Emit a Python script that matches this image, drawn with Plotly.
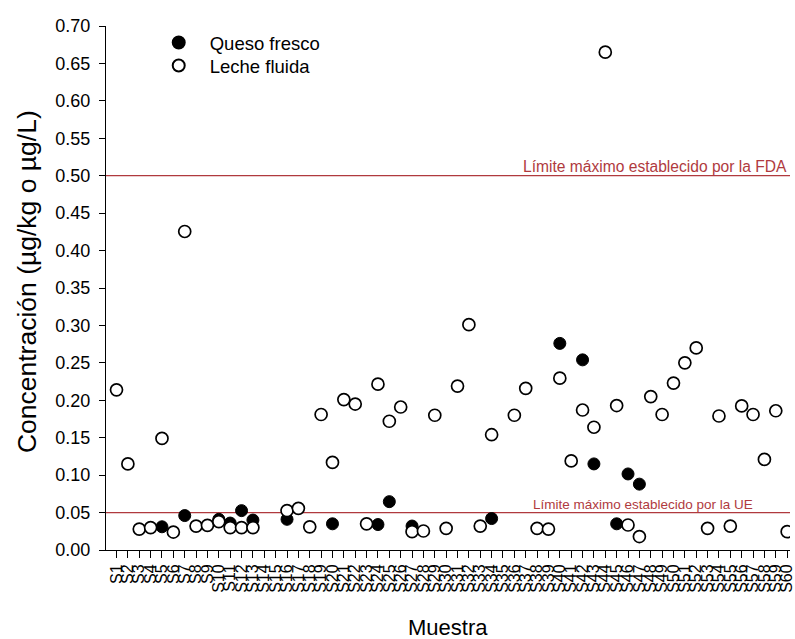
import plotly.graph_objects as go

samples = [f"S{i}" for i in range(1, 61)]

# Queso fresco (filled)
queso = [None] * 60
queso_vals = {5: 0.031, 7: 0.046, 10: 0.041, 11: 0.036, 12: 0.0526, 13: 0.040,
              16: 0.041, 20: 0.035, 24: 0.034, 25: 0.0646, 27: 0.032, 34: 0.042,
              40: 0.276, 42: 0.254, 43: 0.115, 45: 0.035, 46: 0.1016, 47: 0.088}
for k, v in queso_vals.items():
    queso[k - 1] = v

# Leche fluida (open)
leche = [0.214, 0.115, 0.028, 0.030, 0.149, 0.024, 0.4255, 0.032, 0.033, 0.038,
         0.030, 0.030, 0.030, None, None, 0.0526, 0.0557, 0.031, 0.181, 0.117,
         0.201, 0.195, 0.035, 0.2215, 0.172, 0.191, 0.0245, 0.0254, 0.180, 0.029,
         0.219, 0.301, 0.032, 0.154, None, 0.180, 0.216, 0.029, 0.028, 0.2295,
         0.119, 0.187, 0.164, 0.665, 0.193, 0.0334, 0.018, 0.205, 0.181, 0.223,
         0.250, 0.270, 0.029, 0.179, 0.032, 0.1925, 0.181, 0.121, 0.186, 0.0245]

limit_fda = 0.50
limit_ue = 0.05
y_ticks = [round(0.05 * i, 2) for i in range(15)]

FONT = "Liberation Sans, Arial, sans-serif"
RED = "#b03a3e"

fig = go.Figure()
fig.add_trace(go.Scatter(
    x=samples, y=queso, mode="markers", name="Queso fresco", legend="legend",
    marker=dict(symbol="circle", size=12, color="black",
                line=dict(color="black", width=1)),
))
fig.add_trace(go.Scatter(
    x=samples, y=leche, mode="markers", name="Leche fluida", legend="legend2",
    marker=dict(symbol="circle", size=12, color="white",
                line=dict(color="black", width=1.7)),
))

for val in (limit_fda, limit_ue):
    fig.add_shape(type="line", xref="paper", x0=0, x1=1, yref="y", y0=val, y1=val,
                  line=dict(color=RED, width=1.3), layer="below")

fig.add_annotation(xref="paper", x=0.999, yref="y", y=limit_fda, text="Límite máximo establecido por la FDA",
                   showarrow=False, xanchor="right", yanchor="bottom", yshift=-1.5,
                   font=dict(family=FONT, size=15.6, color=RED))
fig.add_annotation(xref="paper", x=0.9488, yref="y", y=limit_ue, text="Límite máximo establecido por la UE",
                   showarrow=False, xanchor="right", yanchor="bottom", yshift=-1.5,
                   font=dict(family=FONT, size=13.5, color=RED))

# axis titles placed as annotations for exact positioning
fig.add_annotation(xref="paper", x=-0.1161, yref="paper", y=0.5124,
                   text="Concentración (µg/kg o µg/L)", textangle=-90,
                   showarrow=False, xanchor="center", yanchor="middle",
                   font=dict(family=FONT, size=26.5, color="black"))
fig.add_annotation(xref="paper", x=0.4995, yref="paper", y=-0.147,
                   text="Muestra", showarrow=False, xanchor="center", yanchor="middle",
                   font=dict(family=FONT, size=22, color="black"))

legend_common = dict(xanchor="left", yanchor="middle",
                     font=dict(family=FONT, size=18.5, color="black"),
                     bgcolor="rgba(0,0,0,0)", itemsizing="constant", itemwidth=52)

fig.update_layout(
    width=795, height=639,
    margin=dict(l=106, r=0, t=26, b=89),
    paper_bgcolor="white", plot_bgcolor="white",
    font=dict(family=FONT, color="black"),
    showlegend=True,
    legend=dict(x=0.061, y=0.9676, **legend_common),
    legend2=dict(x=0.061, y=0.9237, **legend_common),
    xaxis=dict(
        type="category", categoryorder="array", categoryarray=samples,
        tickmode="array", tickvals=samples, ticktext=samples,
        range=[-0.925, 59.25],
        showline=True, linecolor="black", linewidth=1,
        ticks="outside", ticklen=7, tickcolor="black",
        tickangle=-90, tickfont=dict(family=FONT, size=16, color="black"),
        showgrid=False, zeroline=False,
    ),
    yaxis=dict(
        range=[0, 0.70], tickvals=y_ticks, tickformat=".2f",
        showline=True, linecolor="black", linewidth=1,
        ticks="outside", ticklen=6, tickcolor="black", ticklabelstandoff=5,
        tickfont=dict(family=FONT, size=18, color="black"),
        showgrid=False, zeroline=False,
    ),
)

fig.write_html("out.html", config={"displayModeBar": False},
               post_script="document.body.style.margin='0px';document.body.style.overflow='hidden';")
